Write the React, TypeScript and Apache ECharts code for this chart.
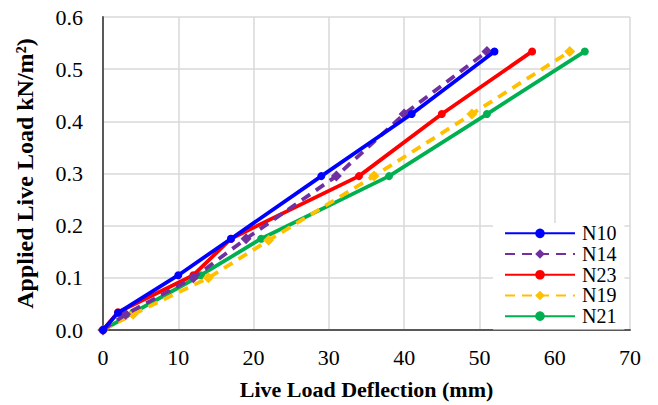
import React, { useEffect, useRef } from "react";
import * as echarts from "echarts";

const seriesNames = ["N10", "N14", "N23", "N19", "N21"];
const seriesColors = ["#0000FF", "#7030A0", "#FF0000", "#FFC000", "#00B050"];
const seriesDashed = [false, true, false, true, false];
const seriesSymbols = ["circle", "diamond", "circle", "diamond", "circle"];

const n10: [number, number][] = [[0, 0], [2, 0.033], [10, 0.105], [17, 0.175], [29, 0.295], [41, 0.414], [52, 0.534]];
const n14: [number, number][] = [[0, 0], [3, 0.03], [12, 0.1], [19, 0.175], [31, 0.295], [40, 0.414], [51, 0.534]];
const n23: [number, number][] = [[0, 0], [2, 0.034], [12, 0.105], [17, 0.175], [34, 0.295], [45, 0.414], [57, 0.534]];
const n19: [number, number][] = [[0, 0], [4, 0.03], [14, 0.1], [22, 0.172], [36, 0.295], [49, 0.414], [62, 0.534]];
const n21: [number, number][] = [[0, 0], [4, 0.033], [13, 0.105], [21, 0.175], [38, 0.295], [51, 0.414], [64, 0.534]];
const allData = [n10, n14, n23, n19, n21];

const xTitle = "Live Load Deflection (mm)";
const yTitle = "Applied Live Load kN/m²)";

const FONT = "Liberation Serif";

export default function App() {
  const ref = useRef<HTMLDivElement>(null);
  useEffect(() => {
    if (!ref.current) return;
    const chart = echarts.init(ref.current, undefined, { renderer: "svg" });
    chart.setOption({
      animation: false,
      backgroundColor: "#ffffff",
      grid: { left: 103, right: 28, top: 17, bottom: 75, containLabel: false },
      xAxis: {
        type: "value",
        min: 0,
        max: 70,
        interval: 10,
        name: xTitle,
        nameLocation: "middle",
        nameGap: 48,
        nameTextStyle: { fontFamily: FONT, fontSize: 22, fontWeight: "bold", color: "#000" },
        axisLine: { show: true, lineStyle: { color: "#595959", width: 2 } },
        axisTick: { show: false },
        axisLabel: { fontFamily: FONT, fontSize: 22, color: "#000", margin: 16 },
        splitLine: { show: true, lineStyle: { color: "#D9D9D9", width: 1.5 } },
      },
      yAxis: {
        type: "value",
        min: 0,
        max: 0.6,
        interval: 0.1,
        name: yTitle,
        nameLocation: "middle",
        nameGap: 66,
        nameTextStyle: { fontFamily: FONT, fontSize: 24, fontWeight: "bold", color: "#000" },
        axisLine: { show: true, lineStyle: { color: "#595959", width: 2 } },
        axisTick: { show: false },
        axisLabel: {
          fontFamily: FONT,
          fontSize: 22,
          color: "#000",
          margin: 20,
          formatter: (v: number) => v.toFixed(1),
        },
        splitLine: { show: true, lineStyle: { color: "#D9D9D9", width: 1.5 } },
      },
      legend: {
        orient: "vertical",
        left: 493,
        top: 223,
        padding: [0, 8, 3, 11],
        backgroundColor: "#ffffff",
        itemWidth: 70,
        itemHeight: 12,
        itemGap: 0,
        textStyle: { fontFamily: FONT, fontSize: 20, color: "#000", padding: [0, 0, 0, 2], lineHeight: 20.7 },
        data: seriesNames,
      },
      series: seriesNames.map((name, i) => ({
        name,
        type: "line",
        data: allData[i],
        symbol: seriesSymbols[i],
        symbolSize: seriesSymbols[i] === "diamond" ? 11 : 8,
        showSymbol: true,
        lineStyle: {
          color: seriesColors[i],
          width: 3.8,
          type: seriesDashed[i] ? [10, 7] : "solid",
        },
        itemStyle: { color: seriesColors[i] },
        z: 10 - i,
      })),
    });
    return () => chart.dispose();
  }, []);
  return <div ref={ref} style={{ width: 658, height: 405, position: "absolute", left: 0, top: 0 }} />;
}
